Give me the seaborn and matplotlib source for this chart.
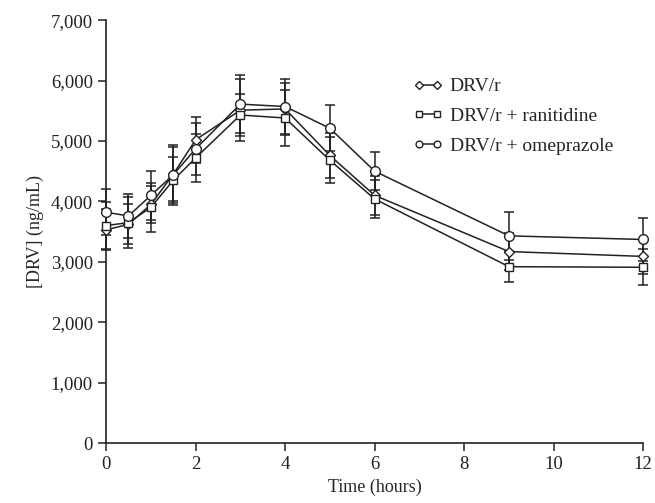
import pandas as pd
import matplotlib
matplotlib.use("Agg")
import matplotlib.pyplot as plt
import matplotlib.ticker as mticker
import seaborn as sns

# Datos (ng/mL)
times = [0, 0.5, 1, 1.5, 2, 3, 4, 5, 6, 9, 12]
drv = [3530, 3620, 3950, 4450, 5020, 5510, 5530, 4760, 4100, 3170, 3090]
ran = [3600, 3650, 3900, 4350, 4720, 5430, 5380, 4680, 4040, 2920, 2910]
ome = [3820, 3760, 4100, 4440, 4870, 5610, 5570, 5210, 4500, 3430, 3370]

drv_sd = [340, 330, 300, 450, 380, 510, 430, 370, 320, 300, 290]
ran_sd = [390, 420, 410, 380, 400, 350, 470, 380, 320, 260, 300]
ome_sd = [380, 360, 400, 500, 430, 480, 460, 380, 310, 400, 350]

labels = ["DRV/r", "DRV/r + ranitidine", "DRV/r + omeprazole"]
markers = {"DRV/r": "D", "DRV/r + ranitidine": "s", "DRV/r + omeprazole": "o"}
msizes = {"DRV/r": 5.5, "DRV/r + ranitidine": 6, "DRV/r + omeprazole": 7}

df = pd.DataFrame({
    "time": times * 3,
    "conc": drv + ran + ome,
    "sd": drv_sd + ran_sd + ome_sd,
    "grupo": [labels[0]] * len(times) + [labels[1]] * len(times) + [labels[2]] * len(times),
})

sns.set_style("ticks")
plt.rcParams["font.family"] = ["Liberation Serif", "DejaVu Serif"]
plt.rcParams["font.size"] = 13

fig = plt.figure(figsize=(6.55, 5.03), dpi=100)
ax = fig.add_axes([0.162, 0.119, 0.82, 0.841])

# Barras de error
for g in labels:
    d = df[df["grupo"] == g]
    eb = ax.errorbar(d["time"], d["conc"], yerr=d["sd"], fmt="none", ecolor="#222222",
                     elinewidth=1.1, capsize=3.5, capthick=1.1, zorder=2)
    for art in eb.lines[1] + eb.lines[2]:
        art.set_clip_on(False)

# Lineas con marcadores
for g in labels:
    d = df[df["grupo"] == g]
    sns.lineplot(data=d, x="time", y="conc", ax=ax, color="#222222", linewidth=1.1,
                 marker=markers[g], markersize=msizes[g], markerfacecolor="white",
                 markeredgecolor="#222222", markeredgewidth=1.0, label=g, zorder=3,
                 clip_on=False)

ax.set_xlim(0, 12)
ax.set_ylim(0, 7000)
ax.set_xticks([0, 2, 4, 6, 8, 10, 12])
ax.set_yticks(range(0, 7001, 1000))
ax.yaxis.set_major_formatter(mticker.StrMethodFormatter("{x:,.0f}"))
ax.tick_params(direction="out", length=6, width=1.1, labelsize=13.5, colors="#222222")
ax.spines["top"].set_visible(False)
ax.spines["right"].set_visible(False)
for s in ["left", "bottom"]:
    ax.spines[s].set_linewidth(1.2)
    ax.spines[s].set_color("#222222")
ax.set_xlabel("Time (hours)", fontsize=13, labelpad=4)
ax.set_ylabel("[DRV] (ng/mL)", fontsize=13, labelpad=5)

leg = ax.legend(loc="upper left", bbox_to_anchor=(0.54, 0.905), frameon=False,
                fontsize=14, handlelength=1.5, handletextpad=0.35, labelspacing=0.62,
                numpoints=2, markerscale=0.7)

plt.savefig("out.png", dpi=100)
